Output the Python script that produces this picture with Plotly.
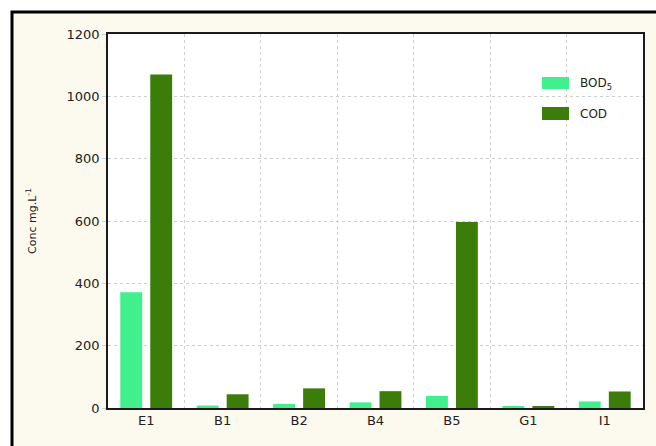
import plotly.graph_objects as go

# Sampling sites and measured concentrations (mg/L)
sites = ["E1", "B1", "B2", "B4", "B5", "G1", "I1"]
bod5 = [371, 8, 13, 18, 39, 5, 21]
cod = [1070, 44, 63, 54, 597, 4, 53]
y_ticks = [0, 200, 400, 600, 800, 1000, 1200]

bod_color = "#40f08c"
cod_color = "#3c7d0a"
panel_color = "#fcf9ef"
font_family = "DejaVu Sans, Liberation Sans, Arial, sans-serif"

fig = go.Figure()
fig.add_trace(go.Bar(x=sites, y=bod5, name="BOD5", marker=dict(color=bod_color, line=dict(width=0))))
fig.add_trace(go.Bar(x=sites, y=cod, name="COD", marker=dict(color=cod_color, line=dict(width=0))))

# Plot-area geometry in pixels (used for placing the frame and legend)
W, H = 656, 446
L, R, T, B = 108, 13, 34, 38
pw, ph = W - L - R, H - T - B


def px_x(x):
    return (x - L) / pw


def px_y(y):
    return (H - B - y) / ph


shapes = [
    # white margin outside the panel frame (left and top strips)
    dict(type="rect", xref="paper", yref="paper",
         x0=px_x(-5), x1=px_x(12), y0=px_y(H + 10), y1=px_y(-5),
         fillcolor="#ffffff", line=dict(width=0)),
    dict(type="rect", xref="paper", yref="paper",
         x0=px_x(-5), x1=px_x(W + 10), y0=px_y(12), y1=px_y(-5),
         fillcolor="#ffffff", line=dict(width=0)),
    # heavy black panel frame
    dict(type="rect", xref="paper", yref="paper",
         x0=px_x(12), x1=px_x(W + 10), y0=px_y(H + 10), y1=px_y(12),
         fillcolor="rgba(0,0,0,0)", line=dict(color="#000000", width=3)),
    # legend swatches
    dict(type="rect", xref="paper", yref="paper",
         x0=px_x(542), x1=px_x(569), y0=px_y(89), y1=px_y(77),
         fillcolor=bod_color, line=dict(width=0)),
    dict(type="rect", xref="paper", yref="paper",
         x0=px_x(542), x1=px_x(569), y0=px_y(120), y1=px_y(107),
         fillcolor=cod_color, line=dict(width=0)),
]

annotations = [
    dict(xref="paper", yref="paper", x=px_x(578), y=px_y(84), xanchor="left", yanchor="middle",
         text="BOD<sub>5</sub>", showarrow=False, font=dict(size=12, color="#222")),
    dict(xref="paper", yref="paper", x=px_x(578), y=px_y(114), xanchor="left", yanchor="middle",
         text="COD", showarrow=False, font=dict(size=12, color="#222")),
]

fig.update_layout(
    width=W, height=H,
    margin=dict(l=L, r=R, t=T, b=B, autoexpand=False),
    paper_bgcolor=panel_color,
    plot_bgcolor="#ffffff",
    barmode="group",
    bargap=0.216,
    bargroupgap=0.27,
    showlegend=False,
    font=dict(family=font_family, size=13, color="#222"),
    shapes=shapes,
    annotations=annotations,
)

fig.update_xaxes(
    type="category",
    tickson="boundaries",
    ticks="outside", ticklen=12, tickcolor="rgba(0,0,0,0)",
    showgrid=True, gridcolor="#cfcfcf", griddash="dot", gridwidth=1,
    showline=True, linecolor="#1a1a1a", linewidth=1.5, mirror=True,
    tickfont=dict(size=13),
)
fig.update_yaxes(
    range=[0, 1200],
    tickvals=y_ticks,
    ticks="outside", ticklen=4, tickcolor="#d0d0d0",
    showgrid=True, gridcolor="#cfcfcf", griddash="dot", gridwidth=1,
    zeroline=False,
    showline=True, linecolor="#1a1a1a", linewidth=1.5, mirror=True,
    tickfont=dict(size=13),
    title=dict(text="Conc mg.L<sup>-1</sup>", font=dict(size=11), standoff=28),
)

fig.write_html("out.html")
